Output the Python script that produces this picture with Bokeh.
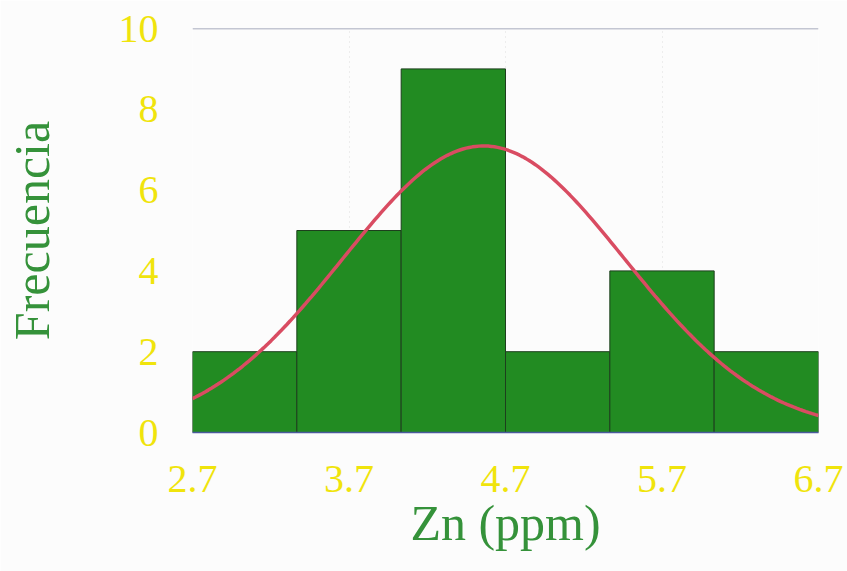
import numpy as np
from bokeh.plotting import figure
from bokeh.models import Span, FixedTicker
from bokeh.embed import file_html
from bokeh.resources import INLINE

# Data
bin_edges = [2.7, 3.3667, 4.0333, 4.7, 5.3667, 6.0333, 6.7]
counts = [2, 5, 9, 2, 4, 2]
x_ticks = [2.7, 3.7, 4.7, 5.7, 6.7]
y_ticks = [0, 2, 4, 6, 8, 10]
# fitted normal curve parameters
fit_mean = 4.56
fit_sd = 0.90

FONT = "Liberation Serif"
YELLOW = "#f0e40c"
GREEN_TXT = "#35923a"

p = figure(width=847, height=571, output_backend="svg", toolbar_location=None,
           x_range=(2.7, 6.7), y_range=(0, 10),
           min_border_left=192, min_border_right=29, min_border_top=28, min_border_bottom=139)
p.background_fill_color = "#fcfcfc"
p.border_fill_color = "#fcfcfc"
p.outline_line_color = None

# bars
p.quad(left=bin_edges[:-1], right=bin_edges[1:], bottom=0, top=counts,
       fill_color="#228b22", line_color="#1d3f1d", line_width=1)

# fitted normal curve scaled to the histogram
n_total = sum(counts)
bw = bin_edges[1] - bin_edges[0]
xs = np.linspace(2.7, 6.7, 200)
ys = n_total * bw * np.exp(-0.5 * ((xs - fit_mean) / fit_sd) ** 2) / (fit_sd * np.sqrt(2 * np.pi))
p.line(xs, ys, line_color="#d94c62", line_width=3.5)

# top line
p.add_layout(Span(location=10, dimension="width", line_color="#8a90a8", line_width=1.5))

# axes
p.xaxis.ticker = FixedTicker(ticks=x_ticks)
p.yaxis.ticker = FixedTicker(ticks=y_ticks)
p.xaxis.axis_label = "Zn (ppm)"
p.yaxis.axis_label = "Frecuencia"
for ax in (p.xaxis[0], p.yaxis[0]):
    ax.major_label_text_font = FONT
    ax.major_label_text_font_size = "40px"
    ax.major_label_text_color = YELLOW
    ax.axis_label_text_font = FONT
    ax.axis_label_text_font_size = "50px"
    ax.axis_label_text_font_style = "normal"
    ax.axis_label_text_color = GREEN_TXT
    ax.major_tick_line_color = None
    ax.minor_tick_line_color = None
p.xaxis.axis_line_color = "#4a5a9c"
p.xaxis.axis_line_width = 1.5
p.yaxis.axis_line_color = None
p.xaxis.major_label_standoff = 27
p.yaxis.major_label_standoff = 28
p.xaxis.axis_label_standoff = 0
p.yaxis.axis_label_standoff = 56

p.xgrid.ticker = FixedTicker(ticks=[3.7, 4.7, 5.7, 6.7])
p.xgrid.grid_line_color = "#c8c8c8"
p.xgrid.grid_line_dash = "1 4"
p.xgrid.grid_line_alpha = 0.6
p.ygrid.grid_line_color = None

open("out.html", "w").write(file_html(p, INLINE))
